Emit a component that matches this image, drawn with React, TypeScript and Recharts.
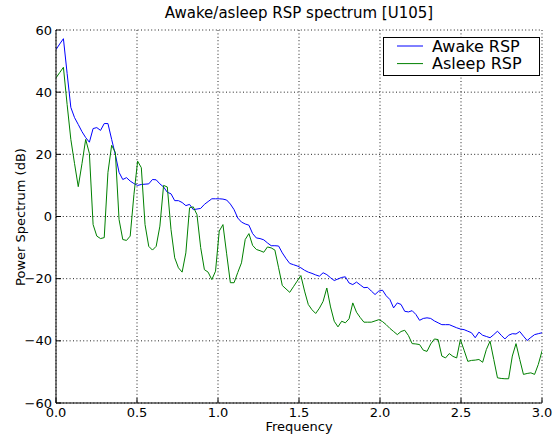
import React from 'react';
import { LineChart, Line, XAxis, YAxis, CartesianGrid } from 'recharts';

// Frequency grid: one sample every 3/131 Hz from 0 to 3.0
const FREQ_STEP = 3 / 131;

const awakeRSP = [
  53.7, 55.5, 57.2, 46, 35.1, 31.8, 29.6, 27.3, 25.4, 23.9,
  28.3, 28.6, 27.7, 29.9, 29.9, 24.8, 19.9, 14.2, 11.9, 12.5,
  11.4, 10.6, 10.0, 10.3, 10.4, 10.5, 11.9, 11.8, 10.5, 9.5,
  7.8, 7.3, 5.1, 5.1, 4.5, 3.5, 3.9, 2.2, 2.4, 2.6,
  3.9, 4.8, 5.7, 5.7, 5.7, 5.6, 5.3, 4.0, 2.2, -0.5,
  -1.8, -2.4, -2.8, -5.5, -6.9, -7.1, -7.5, -8.5, -9.4, -9.4,
  -9.5, -11.7, -13.5, -15.1, -15.5, -15.9, -16.5, -17.3, -17.9, -18.3,
  -18.8, -19.2, -18.1, -18.7, -19.7, -20.6, -20.1, -19.6, -19.4, -21.4,
  -21.9, -21.1, -22.0, -22.9, -22.8, -24.0, -25.1, -24.0, -23.7, -25.5,
  -26.7, -29.4, -27.8, -28.3, -30.5, -30.7, -30.3, -31.5, -33.4, -32.8,
  -32.6, -32.8, -33.6, -34.2, -34.8, -34.8, -34.8, -35.3, -35.8, -36.2,
  -36.4, -36.9, -37.4, -39.0, -37.2, -38.2, -38.6, -39.0, -38.0, -36.9,
  -38.2, -39.4, -38.2, -37.7, -37.8, -37.0, -38.5, -39.9, -38.9, -38.0,
  -37.7, -37.4,
];

const asleepRSP = [
  44.6, 46.3, 48.0, 36, 24.8, 17, 9.6, 17, 24.8, 20.3,
  -2.6, -6.3, -7.1, -6.8, 14.2, 22.9, 20.6, -1.0, -7.4, -7.7,
  -6.3, 7, 17.8, 15.7, -2.6, -9.6, -10.8, -9.6, -3.1, 10.0,
  9.5, -4.2, -13.3, -16.5, -17.9, -11.7, 2.8, 3.1, 0.6, -10,
  -17.1, -17.9, -20.3, -17.6, -4.7, -2.6, -12, -21.3, -21.3, -18,
  -14.9, -7.4, -5.5, -9.3, -10.6, -11, -11.5, -9.8, -10.1, -10.8,
  -16.5, -22.2, -23.3, -24.4, -22.6, -20.8, -19, -24, -28.3, -30,
  -31.2, -29.5, -27.3, -23, -29.1, -33.7, -35.5, -33.7, -34.2, -32.9,
  -27.8, -30.8, -32.5, -34, -34, -34, -33.6, -33.2, -33.8, -34.8,
  -36, -37, -38, -37, -36.6, -38.3, -40.9, -41, -41.2, -43,
  -43.4, -41, -39.4, -39.6, -44.9, -45.5, -44.1, -45, -45.5, -39.6,
  -43, -46.6, -46.3, -46.2, -46, -46.9, -42.8, -40.1, -46, -51.9,
  -52.1, -52.2, -52.2, -44.9, -40.9, -46, -50.8, -50.5, -50.3, -50.8,
  -47.6, -43.3,
];

const xTicks = [0, 0.5, 1, 1.5, 2, 2.5, 3];
const xTickLabels = ['0.0', '0.5', '1.0', '1.5', '2.0', '2.5', '3.0'];
const yTicks = [-60, -40, -20, 0, 20, 40, 60];
const yTickLabels = ['\u221260', '\u221240', '\u221220', '0', '20', '40', '60'];

const seriesNames = ['Awake RSP', 'Asleep RSP'];
const seriesColors = ['#0000ff', '#008000'];

const data = awakeRSP.map((v, i) => ({
  f: i * FREQ_STEP,
  awake: v,
  asleep: asleepRSP[i],
}));

const FONT = '"DejaVu Sans", sans-serif';
const TICK_LEN = 5;

const BottomTick = (props: any) => {
  const { x, y, payload, index } = props;
  const idx = xTicks.indexOf(payload.value);
  return (
    <g>
      <line x1={x} x2={x} y1={y} y2={y - TICK_LEN} stroke="#000" strokeWidth={1} />
      <text x={x} y={y + 14} textAnchor="middle" fontSize={13} fontFamily={FONT} fill="#000">
        {xTickLabels[idx >= 0 ? idx : index]}
      </text>
    </g>
  );
};

const TopTick = (props: any) => {
  const { x, y } = props;
  return <line x1={x} x2={x} y1={y} y2={y + TICK_LEN} stroke="#000" strokeWidth={1} />;
};

const LeftTick = (props: any) => {
  const { x, y, payload, index } = props;
  const idx = yTicks.indexOf(payload.value);
  return (
    <g>
      <line x1={x} x2={x + TICK_LEN} y1={y} y2={y} stroke="#000" strokeWidth={1} />
      <text x={x - 4} y={y + 4.5} textAnchor="end" fontSize={13} fontFamily={FONT} fill="#000">
        {yTickLabels[idx >= 0 ? idx : index]}
      </text>
    </g>
  );
};

const RightTick = (props: any) => {
  const { x, y } = props;
  return <line x1={x} x2={x - TICK_LEN} y1={y} y2={y} stroke="#000" strokeWidth={1} />;
};

const LegendBox = () => (
  <svg width={157} height={39} style={{ display: 'block' }}>
    <rect x={0.5} y={0.5} width={156} height={38} fill="#fff" stroke="#000" strokeWidth={1} />
    {seriesNames.map((name, i) => (
      <g key={name}>
        <line
          x1={14}
          x2={40}
          y1={9 + i * 17.6}
          y2={9 + i * 17.6}
          stroke={seriesColors[i]}
          strokeWidth={1}
        />
        <text x={49} y={14.5 + i * 17.6} fontSize={16} fontFamily={FONT} fill="#000">
          {name}
        </text>
      </g>
    ))}
  </svg>
);

export default function App() {
  return (
    <div
      style={{
        position: 'absolute',
        left: 0,
        top: 0,
        width: 554,
        height: 441,
        background: '#fff',
        fontFamily: FONT,
      }}
    >
      <div
        style={{
          position: 'absolute',
          left: 299,
          top: 5,
          transform: 'translateX(-50%)',
          fontSize: 15,
          lineHeight: '17px',
          whiteSpace: 'nowrap',
          color: '#000',
        }}
      >
        Awake/asleep RSP spectrum [U105]
      </div>
      <LineChart
        width={554}
        height={441}
        data={data}
        margin={{ top: 30, right: 12, left: 0, bottom: 0 }}
      >
        <CartesianGrid
          stroke="#222"
          strokeWidth={1}
          strokeDasharray="1 2.4"
          horizontalValues={yTicks}
          verticalValues={xTicks}
        />
        <XAxis
          dataKey="f"
          type="number"
          domain={[0, 3]}
          ticks={xTicks}
          allowDataOverflow
          height={38}
          tickSize={0}
          tickMargin={0}
          tickLine={false}
          axisLine={{ stroke: '#000', strokeWidth: 1 }}
          tick={<BottomTick />}
          interval={0}
        />
        <XAxis
          xAxisId="top"
          orientation="top"
          dataKey="f"
          type="number"
          domain={[0, 3]}
          ticks={xTicks}
          allowDataOverflow
          height={0}
          tickSize={0}
          tickMargin={0}
          tickLine={false}
          axisLine={{ stroke: '#000', strokeWidth: 1 }}
          tick={<TopTick />}
          interval={0}
        />
        <YAxis
          type="number"
          domain={[-60, 60]}
          ticks={yTicks}
          allowDataOverflow
          width={56}
          tickSize={0}
          tickMargin={0}
          tickLine={false}
          axisLine={{ stroke: '#000', strokeWidth: 1 }}
          tick={<LeftTick />}
          interval={0}
        />
        <YAxis
          yAxisId="right"
          orientation="right"
          type="number"
          domain={[-60, 60]}
          ticks={yTicks}
          allowDataOverflow
          width={0}
          tickSize={0}
          tickMargin={0}
          tickLine={false}
          axisLine={{ stroke: '#000', strokeWidth: 1 }}
          tick={<RightTick />}
          interval={0}
        />
        <Line
          type="linear"
          dataKey="awake"
          name={seriesNames[0]}
          stroke={seriesColors[0]}
          strokeWidth={1}
          dot={false}
          activeDot={false}
          isAnimationActive={false}
        />
        <Line
          type="linear"
          dataKey="asleep"
          name={seriesNames[1]}
          stroke={seriesColors[1]}
          strokeWidth={1}
          dot={false}
          activeDot={false}
          isAnimationActive={false}
        />
      </LineChart>
      <div style={{ position: 'absolute', left: 383, top: 37 }}>
        <LegendBox />
      </div>
      <div
        style={{
          position: 'absolute',
          left: 299,
          top: 419,
          transform: 'translateX(-50%)',
          fontSize: 13,
          lineHeight: '15px',
          whiteSpace: 'nowrap',
          color: '#000',
        }}
      >
        Frequency
      </div>
      <div
        style={{
          position: 'absolute',
          left: 20,
          top: 217,
          transform: 'translate(-50%, -50%) rotate(-90deg)',
          fontSize: 13,
          lineHeight: '15px',
          whiteSpace: 'nowrap',
          color: '#000',
        }}
      >
        Power Spectrum (dB)
      </div>
    </div>
  );
}
